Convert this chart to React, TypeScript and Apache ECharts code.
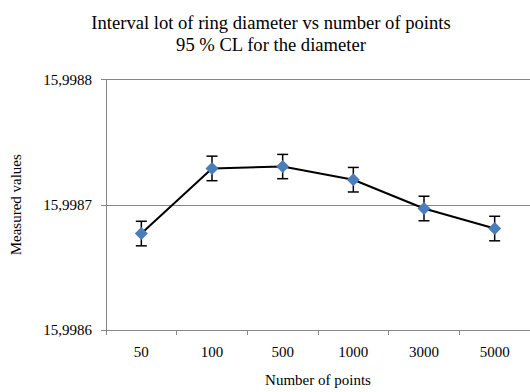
import React, { useEffect, useRef } from "react";
import * as echarts from "echarts";

const categories = ["50", "100", "500", "1000", "3000", "5000"];
const measured = [15.998677, 15.998729, 15.9987305, 15.99872, 15.998697, 15.998681];
const ciHalf = [0.0000098, 0.0000098, 0.0000097, 0.0000098, 0.0000098, 0.0000098];
const yTicks = { min: 15.9986, max: 15.9988, interval: 0.0001 };
const titleLines = ["Interval lot of ring diameter vs number of points", "95 % CL for the diameter"];

const FONT = "'Liberation Serif', 'Times New Roman', serif";

export default function App() {
  const ref = useRef<HTMLDivElement>(null);
  useEffect(() => {
    if (!ref.current) return;
    const chart = echarts.init(ref.current, undefined, { renderer: "svg" });
    const errData = measured.map((v, i) => [i, v - ciHalf[i], v + ciHalf[i]]);
    chart.setOption({
      animation: false,
      backgroundColor: "#ffffff",
      title: {
        text: titleLines.join("\n"),
        left: 266,
        top: 6,
        textAlign: "center",
        textStyle: { fontFamily: FONT, fontSize: 18.6, fontWeight: "normal", color: "#000", lineHeight: 22 },
      },
      grid: { left: 99, top: 79.5, width: 434, height: 256 },
      xAxis: {
        type: "category",
        data: categories,
        boundaryGap: true,
        name: "Number of points",
        nameLocation: "middle",
        nameGap: 42,
        nameTextStyle: { fontFamily: FONT, fontSize: 15, color: "#000" },
        axisLine: { lineStyle: { color: "#868686", width: 1 } },
        axisTick: { show: true, length: 5, lineStyle: { color: "#868686" } },
        axisLabel: { fontFamily: FONT, fontSize: 15, color: "#000", margin: 14 },
        splitLine: { show: false },
      },
      yAxis: {
        type: "value",
        min: yTicks.min,
        max: yTicks.max,
        interval: yTicks.interval,
        name: "Measured values",
        nameLocation: "middle",
        nameRotate: 90,
        nameGap: 83,
        nameTextStyle: { fontFamily: FONT, fontSize: 15, color: "#000" },
        axisLine: { show: true, lineStyle: { color: "#868686", width: 1 } },
        axisTick: { show: true, length: 5, lineStyle: { color: "#868686" } },
        axisLabel: {
          fontFamily: FONT,
          fontSize: 15,
          color: "#000",
          margin: 14,
          formatter: (v: number) => v.toFixed(4).replace(".", ","),
        },
        splitLine: { show: true, lineStyle: { color: "#868686", width: 1 } },
      },
      series: [
        {
          type: "custom",
          z: 1,
          data: errData,
          encode: { x: 0, y: [1, 2] },
          renderItem: (params: any, api: any) => {
            const x = api.value(0);
            const lo = api.coord([x, api.value(1)]);
            const hi = api.coord([x, api.value(2)]);
            const half = 5.5;
            const style = { stroke: "#000", lineWidth: 1.5 };
            return {
              type: "group",
              children: [
                { type: "line", shape: { x1: hi[0], y1: hi[1], x2: lo[0], y2: lo[1] }, style },
                { type: "line", shape: { x1: hi[0] - half, y1: hi[1], x2: hi[0] + half, y2: hi[1] }, style },
                { type: "line", shape: { x1: lo[0] - half, y1: lo[1], x2: lo[0] + half, y2: lo[1] }, style },
              ],
            };
          },
        },
        {
          type: "line",
          z: 2,
          data: measured,
          symbol: "diamond",
          symbolSize: 13,
          itemStyle: { color: "#4a7ebb" },
          lineStyle: { color: "#000", width: 2 },
        },
      ],
    });
    return () => chart.dispose();
  }, []);
  return (
    <div
      ref={ref}
      style={{ position: "fixed", left: 0, top: 0, width: 530, height: 392, background: "#fff" }}
    />
  );
}
